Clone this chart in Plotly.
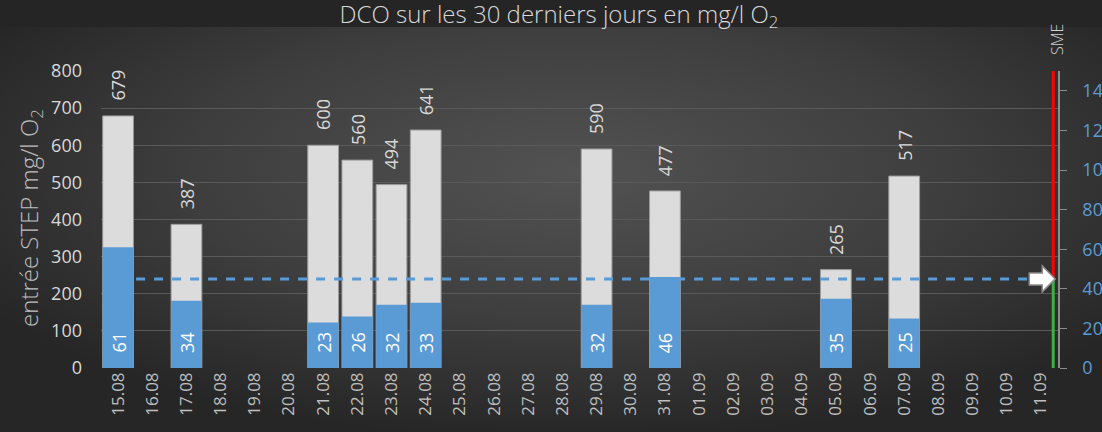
import base64
import plotly.graph_objects as go

# ---------------- data ----------------
dates = ["15.08", "16.08", "17.08", "18.08", "19.08", "20.08", "21.08", "22.08",
         "23.08", "24.08", "25.08", "26.08", "27.08", "28.08", "29.08", "30.08",
         "31.08", "01.09", "02.09", "03.09", "04.09", "05.09", "06.09", "07.09",
         "08.09", "09.09", "10.09", "11.09"]
dco_entree = [679, None, 387, None, None, None, 600, 560, 494, 641, None, None, None, None,
              590, None, 477, None, None, None, None, 265, None, 517, None, None, None, None]
dco_sortie = [61, None, 34, None, None, None, 23, 26, 32, 33, None, None, None, None,
              32, None, 46, None, None, None, None, 35, None, 25, None, None, None, None]
seuil_sme = 45
left_ticks = [0, 100, 200, 300, 400, 500, 600, 700, 800]
right_ticks = [0, 20, 40, 60, 80, 100, 120, 140]

# ---------------- geometry / style ----------------
W, H = 1102, 432
ML, MR, MT, MB = 101, 44, 71, 64
PW, PH = W - ML - MR, H - MT - MB
GRAY_TXT = "#d9d9d9"
BLUE = "#5b9bd5"
FONT = "Open Sans"

xs = list(range(len(dates)))

# background: dark title band + radial gradient
svg = f'''<svg xmlns="http://www.w3.org/2000/svg" width="{W}" height="{H}" viewBox="0 0 {W} {H}" preserveAspectRatio="none">
<defs><radialGradient id="g" cx="0.52" cy="0.40" r="0.62">
<stop offset="0" stop-color="#525252"/><stop offset="0.55" stop-color="#3e3e3e"/><stop offset="1" stop-color="#262626"/>
</radialGradient></defs>
<rect x="0" y="0" width="{W}" height="{H}" fill="url(#g)"/>
<rect x="0" y="0" width="{W}" height="27" fill="#252525"/>
</svg>'''
bg_src = "data:image/svg+xml;base64," + base64.b64encode(svg.encode()).decode()

fig = go.Figure()

fig.add_trace(go.Bar(
    x=xs, y=dco_entree, yaxis="y", width=0.9,
    marker=dict(color="#dcdcdc", line=dict(color="#9a9a9a", width=1)),
    hoverinfo="skip", showlegend=False))

fig.add_trace(go.Scatter(
    x=[xs[0], 26.68], y=[seuil_sme, seuil_sme], yaxis="y2", mode="lines",
    line=dict(color=BLUE, width=3, dash="dash"), hoverinfo="skip", showlegend=False))

fig.add_trace(go.Bar(
    x=xs, y=dco_sortie, yaxis="y3", width=0.9,
    marker=dict(color=BLUE, line=dict(width=0)),
    hoverinfo="skip", showlegend=False))

annotations = []
for x, v in zip(xs, dco_entree):
    if v is None:
        continue
    annotations.append(dict(x=x, y=v, xref="x", yref="y", text=str(v), showarrow=False,
                            textangle=-90, xanchor="center", yanchor="bottom", yshift=13,
                            font=dict(family=FONT, size=18, color=GRAY_TXT)))
for x, v in zip(xs, dco_sortie):
    if v is None:
        continue
    annotations.append(dict(x=x, y=0, xref="x", yref="y3", text=str(v), showarrow=False,
                            textangle=-90, xanchor="center", yanchor="bottom", yshift=13,
                            font=dict(family=FONT, size=18, color="white")))

annotations.append(dict(xref="paper", yref="paper", x=(30 - ML) / PW, y=(H - MB - 218) / PH,
                        text="entrée STEP mg/l O<sub>2</sub>", showarrow=False, textangle=-90,
                        xanchor="center", yanchor="middle",
                        font=dict(family=FONT, size=24, color="#bfbfbf", weight=300)))
annotations.append(dict(xref="paper", yref="paper", x=(1057 - ML) / PW, y=(H - MB - 40) / PH,
                        text="SME", showarrow=False, textangle=-90,
                        xanchor="center", yanchor="middle",
                        font=dict(family=FONT, size=16, color="#d0d0d0", weight=300)))

line_x = 27.36
shapes = [
    dict(type="line", xref="x", yref="y3", x0=line_x, x1=line_x, y0=0, y1=seuil_sme,
         line=dict(color="#3cb043", width=3), layer="above"),
    dict(type="line", xref="x", yref="y3", x0=line_x, x1=line_x, y0=seuil_sme, y1=150,
         line=dict(color="#ff0000", width=3), layer="above"),
    dict(type="path", xref="x", yref="y3", xsizemode="pixel", ysizemode="pixel",
         xanchor=line_x, yanchor=seuil_sme,
         path="M -24 -6 L -11 -6 L -11 -13 L 2 0 L -11 13 L -11 6 L -24 6 Z",
         fillcolor="white", line=dict(color="#8c8c8c", width=1.5), layer="above"),
]

fig.update_layout(
    width=W, height=H,
    margin=dict(l=ML, r=MR, t=MT, b=MB, pad=0, autoexpand=False),
    paper_bgcolor="#333333", plot_bgcolor="rgba(0,0,0,0)",
    barmode="overlay", bargap=0.1,
    images=[dict(source=bg_src, xref="paper", yref="paper", x=-ML / PW, y=1 + MT / PH,
                 sizex=W / PW, sizey=H / PH, xanchor="left", yanchor="top",
                 sizing="stretch", layer="below")],
    title=dict(text="DCO sur les 30 derniers jours en mg/l O<sub>2</sub>",
               x=559 / W, xanchor="center", xref="container",
               y=1 - 15 / H, yanchor="middle", yref="container",
               font=dict(family=FONT, size=24, color="#d9d9d9", weight=300)),
    xaxis=dict(range=[-0.5, 27.5], tickvals=xs, ticktext=dates, tickangle=-90,
               showgrid=False, zeroline=False, showline=False, ticks="",
               automargin=False,
               tickfont=dict(family=FONT, size=17, color="#bfbfbf")),
    yaxis=dict(range=[0, 800], tickvals=left_ticks, showgrid=True, gridcolor="#5a5a5a",
               gridwidth=1, zeroline=False, showline=False, ticks="",
               ticklabelstandoff=18, automargin=False,
               tickfont=dict(family=FONT, size=18, color=GRAY_TXT)),
    yaxis2=dict(range=[0, 150], overlaying="y", visible=False, showgrid=False,
                automargin=False),
    yaxis3=dict(range=[0, 150], overlaying="y", side="right", tickvals=right_ticks,
                showgrid=False, zeroline=False, showline=True, linecolor="#8c8c8c",
                linewidth=1.5, ticks="outside", ticklen=7, tickcolor="#8c8c8c",
                ticklabelstandoff=12, automargin=False,
                tickfont=dict(family=FONT, size=18, color=BLUE)),
    annotations=annotations, shapes=shapes,
)

fig.write_html("out.html", config={"displayModeBar": False},
               post_script="document.body.style.margin='0';document.body.style.padding='0';"
                           "document.body.style.background='#262626';")
